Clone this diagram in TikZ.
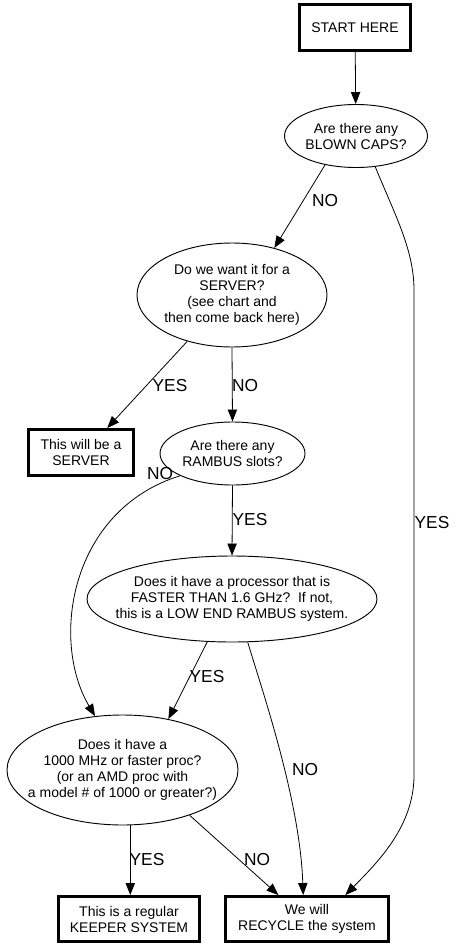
\documentclass[tikz,border=0pt]{standalone}
\usepackage{fontspec}
\setmainfont{Liberation Sans}
\usetikzlibrary{arrows.meta,shapes.geometric}

\begin{document}
\begin{tikzpicture}[x=0.75pt, y=-0.75pt,
  box/.style={draw, line width=2.2pt, align=center, inner sep=0pt, font=\fontsize{10.5pt}{12pt}\selectfont},
  query/.style={draw, ellipse, line width=0.7pt, align=center, inner xsep=-30pt, inner ysep=0pt, font=\fontsize{10.5pt}{12pt}\selectfont},
  lbl/.style={font=\fontsize{13pt}{15pt}\selectfont, inner sep=0pt},
  arr/.style={-{Triangle[length=9pt, width=7pt]}, line width=0.6pt}
]
\useasboundingbox (0,0) rectangle (460,949);

% questions
\node[query, minimum width=107.25pt, minimum height=47.25pt] (caps) at (356,136) {Are there any\\BLOWN CAPS?};
\node[query, minimum width=142.5pt, minimum height=78pt] (server) at (232,295) {Do we want it for a\\SERVER?\\(see chart and\\then come back here)};
\node[query, minimum width=108.75pt, minimum height=47.25pt] (rambus) at (232.5,453.5) {Are there any\\RAMBUS slots?};
\node[query, minimum width=217.5pt, minimum height=64.5pt] (proc) at (232,599) {Does it have a processor that is\\FASTER THAN 1.6 GHz?\ \ If not,\\this is a LOW END RAMBUS system.};
\node[query, minimum width=173.25pt, minimum height=82.5pt] (mhz) at (122.5,770) {Does it have a\\1000 MHz or faster proc?\\(or an AMD proc with\\a model \# of 1000 or greater?)};

% outcomes
\node[box, minimum width=83.25pt, minimum height=34.5pt] (start) at (355,27.5) {START HERE};
\node[box, minimum width=78.75pt, minimum height=34.5pt] (srvbox) at (81,452.5) {This will be a\\SERVER};
\node[box, minimum width=105.75pt, minimum height=33.75pt] (keeper) at (129,919) {This is a regular\\KEEPER SYSTEM};
\node[box, minimum width=122.25pt, minimum height=33.75pt] (recycle) at (307,919) {We will\\RECYCLE the system};

\draw[arr] (start) -- (caps);
\draw[arr] (caps.-137.5) -- (server.48.8);
\node[lbl] (capsno) at (325,201) {NO};
\draw[arr] (caps.-58) .. controls (395,215) and (414,250) .. (414,290) -- (414,775) .. controls (414,825) and (380,860) .. (recycle.32);
\node[lbl] (capsyes) at (432,523) {YES};

\draw[arr] (server.-134.5) -- (srvbox.43);
\node[lbl] (srvyes) at (170,386) {YES};
\draw[arr] (server.south) -- (rambus.north);
\node[lbl] (srvno) at (245,386) {NO};

\draw[arr] (rambus.-157.5) .. controls (70,510) and (50,640) .. (mhz.117.2);
\node[lbl] (rambusno) at (160,474) {NO};
\draw[arr] (rambus.south) -- (proc.north);
\node[lbl] (rambusyes) at (250,520) {YES};

\draw[arr] (proc.-120.5) -- (mhz.48.8);
\node[lbl] (procyes) at (207,677) {YES};
\draw[arr] (proc.-70.7) .. controls (262,690) and (300,800) .. (recycle.99.5);
\node[lbl] (procno) at (305,770) {NO};

\coordinate (mhzout) at (mhz.-82);
\draw[arr] (mhzout) -- (mhzout |- keeper.north);
\node[lbl] (mhzyes) at (147,860) {YES};
\draw[arr] (mhz.-34.7) -- (recycle.140.4);
\node[lbl] (mhzno) at (257,860) {NO};

\end{tikzpicture}
\end{document}
